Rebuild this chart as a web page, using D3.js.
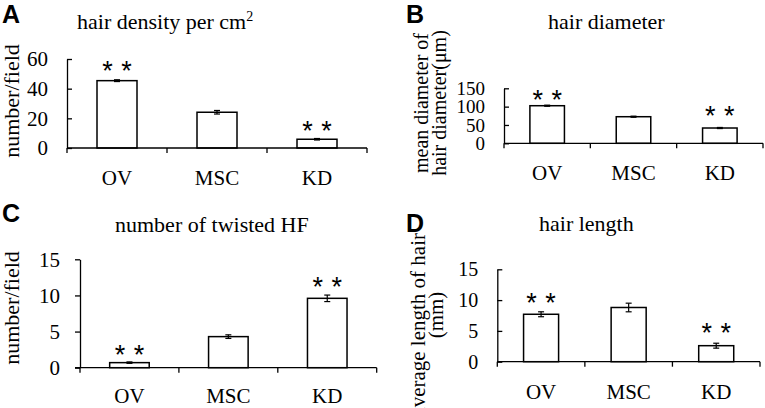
<!DOCTYPE html>
<html>
<head>
<meta charset="utf-8">
<script src="https://cdn.jsdelivr.net/npm/d3@7"></script>
<style>
  html, body { margin: 0; padding: 0; background: #fff; }
  svg { display: block; }
</style>
</head>
<body>
<svg id="chart" width="765" height="408"></svg>
<script>
// ---------- data ----------
const categories = ["OV", "MSC", "KD"];

const densityMeans = [45.4, 24.1, 5.9];
const densityErrors = [0.6, 1.2, 0.5];
const densityTicks = [0, 20, 40, 60];
const densityStars = [56, null, 15.5];

const diameterMeans = [102.5, 72.5, 41.7];
const diameterErrors = [1.5, 1.5, 1.5];
const diameterTicks = [0, 50, 100, 150];
const diameterStars = [134.5, null, 90.8];

const twistedMeans = [0.7, 4.3, 9.6];
const twistedErrors = [0.1, 0.25, 0.45];
const twistedTicks = [0, 5, 10, 15];
const twistedStars = [2.6, null, 12.0];

const lengthMeans = [7.7, 8.8, 2.6];
const lengthErrors = [0.4, 0.7, 0.4];
const lengthTicks = [0, 5, 10, 15];
const lengthStars = [10.5, null, 5.6];

const panelLetters = ["A", "B", "C", "D"];
const titles = ["hair density per cm", "hair diameter", "number of twisted HF", "hair length"];

// ---------- drawing ----------
const svg = d3.select("#chart");
const SERIF = "'Liberation Serif', 'Times New Roman', serif";
const SANS = "'Liberation Sans', Arial, sans-serif";

function drawPanel(p) {
  const g = svg.append("g");
  const x = d3.scaleBand().domain(categories).range([p.x0, p.x1]).padding(0);
  const y = d3.scaleLinear().domain([0, d3.max(p.ticks)]).range([p.yBase, p.yTop]);
  const bw = x.bandwidth() * 0.4;
  const cx = d => x(d) + x.bandwidth() / 2;

  // bars
  g.selectAll("rect.bar").data(categories).join("rect")
    .attr("x", d => x(d) + (x.bandwidth() - bw) / 2)
    .attr("y", (d, i) => y(p.means[i]))
    .attr("width", bw)
    .attr("height", (d, i) => y(0) - y(p.means[i]))
    .attr("fill", "#fff").attr("stroke", "#000").attr("stroke-width", 1.5);

  // error bars
  const eb = g.selectAll("g.err").data(categories).join("g");
  eb.append("line")
    .attr("x1", cx).attr("x2", cx)
    .attr("y1", (d, i) => y(p.means[i] - p.errs[i]))
    .attr("y2", (d, i) => y(p.means[i] + p.errs[i]))
    .attr("stroke", "#000").attr("stroke-width", 1.2);
  [1, -1].forEach(s => {
    eb.append("line")
      .attr("x1", d => cx(d) - 3).attr("x2", d => cx(d) + 3)
      .attr("y1", (d, i) => y(p.means[i] + s * p.errs[i]))
      .attr("y2", (d, i) => y(p.means[i] + s * p.errs[i]))
      .attr("stroke", "#000").attr("stroke-width", 1.2);
  });

  // significance stars
  categories.forEach((c, i) => {
    if (p.stars[i] == null) return;
    [-9.5, 9.5].forEach(dx => {
      g.append("text")
        .attr("x", cx(c) + dx).attr("y", y(p.stars[i]) + 15)
        .attr("text-anchor", "middle")
        .attr("font-family", SANS).attr("font-size", 27)
        .text("*");
    });
  });

  // y axis
  const ax = d3.axisLeft(y).tickValues(p.ticks).tickSizeInner(p.tickIn ? -5 : 5)
    .tickSizeOuter(0).tickPadding(p.tickPad).tickFormat(d3.format("d"));
  const ag = g.append("g").attr("transform", `translate(${p.x0},0)`).call(ax);
  ag.selectAll("path, line").attr("stroke", "#000").attr("stroke-width", 1.3);
  ag.selectAll("text").attr("font-family", SERIF).attr("font-size", p.tickFont).attr("fill", "#000");

  // x axis line and boundary ticks
  const bounds = categories.map(c => x(c)).concat([p.x1]);
  g.append("line").attr("x1", p.x0 - (p.tickIn ? 0 : 5)).attr("x2", p.x1)
    .attr("y1", y(0)).attr("y2", y(0)).attr("stroke", "#000").attr("stroke-width", 1.3);
  g.selectAll("line.xt").data(bounds).join("line")
    .attr("x1", d => d).attr("x2", d => d)
    .attr("y1", y(0)).attr("y2", y(0) + 5)
    .attr("stroke", "#000").attr("stroke-width", 1.3);

  // category labels
  g.selectAll("text.cat").data(categories).join("text")
    .attr("x", d => cx(d)).attr("y", p.catY)
    .attr("text-anchor", "middle")
    .attr("font-family", SERIF).attr("font-size", p.catFont)
    .text(d => d);

  // title
  const t = g.append("text").attr("x", p.titleX).attr("y", p.titleY)
    .attr("font-family", SERIF).attr("font-size", 22).text(p.title);
  if (p.sup) t.append("tspan").attr("font-size", 14).attr("dy", -8).text(p.sup);

  // panel letter
  g.append("text").attr("x", p.letterX).attr("y", p.letterY)
    .attr("font-family", SANS).attr("font-weight", "bold").attr("font-size", 25)
    .text(p.letter);

  // y label (rotated)
  p.ylabel.forEach(line => {
    g.append("text")
      .attr("transform", `translate(${line.x},${line.y}) rotate(-90)`)
      .attr("text-anchor", line.anchor || "middle")
      .attr("font-family", SERIF).attr("font-size", p.ylabFont)
      .text(line.text);
  });
}

drawPanel({
  letter: panelLetters[0], title: titles[0], sup: "2",
  means: densityMeans, errs: densityErrors, ticks: densityTicks, stars: densityStars,
  x0: 67, x1: 367, yBase: 148, yTop: 59, tickIn: true, tickPad: 19, tickFont: 21,
  catY: 185, catFont: 21, titleX: 77, titleY: 29, letterX: 2, letterY: 23,
  ylabFont: 22, ylabel: [{ text: "number/field", x: 19, y: 101 }]
});

drawPanel({
  letter: panelLetters[1], title: titles[1],
  means: diameterMeans, errs: diameterErrors, ticks: diameterTicks, stars: diameterStars,
  x0: 504, x1: 763, yBase: 143.3, yTop: 88.3, tickIn: true, tickPad: 19, tickFont: 19,
  catY: 180, catFont: 21, titleX: 548, titleY: 29, letterX: 406, letterY: 23,
  ylabFont: 20, ylabel: [
    { text: "mean  diameter of", x: 428, y: 103 },
    { text: "hair diameter(μm)", x: 446, y: 103 }
  ]
});

drawPanel({
  letter: panelLetters[2], title: titles[2],
  means: twistedMeans, errs: twistedErrors, ticks: twistedTicks, stars: twistedStars,
  x0: 80, x1: 376.7, yBase: 367.7, yTop: 259.3, tickIn: false, tickPad: 15, tickFont: 21,
  catY: 403, catFont: 21, titleX: 115, titleY: 232, letterX: 2, letterY: 222,
  ylabFont: 22, ylabel: [{ text: "number/field", x: 19, y: 308 }]
});

drawPanel({
  letter: panelLetters[3], title: titles[3],
  means: lengthMeans, errs: lengthErrors, ticks: lengthTicks, stars: lengthStars,
  x0: 497.3, x1: 760, yBase: 361.7, yTop: 269.3, tickIn: true, tickPad: 19, tickFont: 20,
  catY: 399, catFont: 21, titleX: 539, titleY: 231, letterX: 406, letterY: 232,
  ylabFont: 21, ylabel: [
    { text: "average length of hair", x: 425, y: 233, anchor: "end" },
    { text: "(mm)", x: 443, y: 315 }
  ]
});
</script>
</body>
</html>
